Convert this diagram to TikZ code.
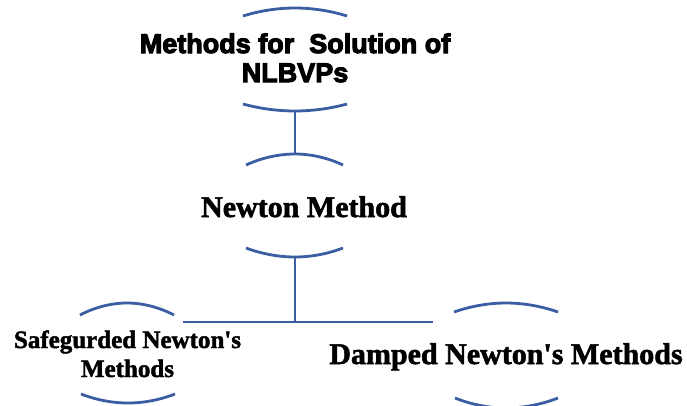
\documentclass[tikz,border=0pt]{standalone}
\usepackage{fontspec}
\setmainfont{Liberation Serif}
\newfontfamily\heavysans[FakeBold=4]{Liberation Sans Bold}
\newfontfamily\heavyserif[FakeBold=1.8]{Liberation Serif Bold}
\definecolor{linkblue}{RGB}{59,94,163}
\begin{document}
\begin{tikzpicture}[x=1pt,y=-1pt,
  arcline/.style={draw=linkblue,line width=2.8pt},
  link/.style={draw=linkblue,line width=2.8pt},
  toptext/.style={font=\heavysans\fontsize{27}{29}\selectfont,inner sep=0pt,align=center},
  bigtext/.style={font=\heavyserif\fontsize{30}{30}\selectfont,inner sep=0pt},
  smalltext/.style={font=\heavyserif\fontsize{25}{29}\selectfont,inner sep=0pt,align=center}]
\useasboundingbox (0,0) rectangle (687,405);
% top ellipse
\draw[arcline] (243,16) parabola bend (295,8) (347,16);
\draw[arcline] (243,104) parabola bend (295,111) (347,104);
\coordinate (topB) at (295,111);
\node[toptext,anchor=base] (top) at (295,82) {Methods for~ Solution of\\NLBVPs};
% newton ellipse
\draw[arcline] (246,165) parabola bend (295,154) (343,165);
\draw[arcline] (246,248) parabola bend (295,257) (343,248);
\coordinate (newT) at (295,154);
\coordinate (newB) at (295,257);
\node[bigtext,anchor=base] (newton) at (304,217) {Newton Method};
% left ellipse
\draw[arcline] (80,315) parabola bend (127,303) (174,315);
\draw[arcline] (81,394) parabola bend (128,403) (175,394);
\node[smalltext,anchor=base] (safe) at (127.5,377) {Safegurded Newton's\\Methods};
% right ellipse
\draw[arcline] (454,312) parabola bend (506,303) (558,312);
\draw[arcline] (455,398) parabola bend (506,408) (558,398);
\node[bigtext,anchor=base] (damped) at (506,364) {Damped Newton's Methods};
% connectors
\coordinate (junc) at (295,322);
\coordinate (jl) at (183,322);
\coordinate (jr) at (433,322);
\draw[link] (topB) -- (newT);
\draw[link] (newB) -- (junc);
\draw[link] (jl) -- (jr);
\end{tikzpicture}
\end{document}
